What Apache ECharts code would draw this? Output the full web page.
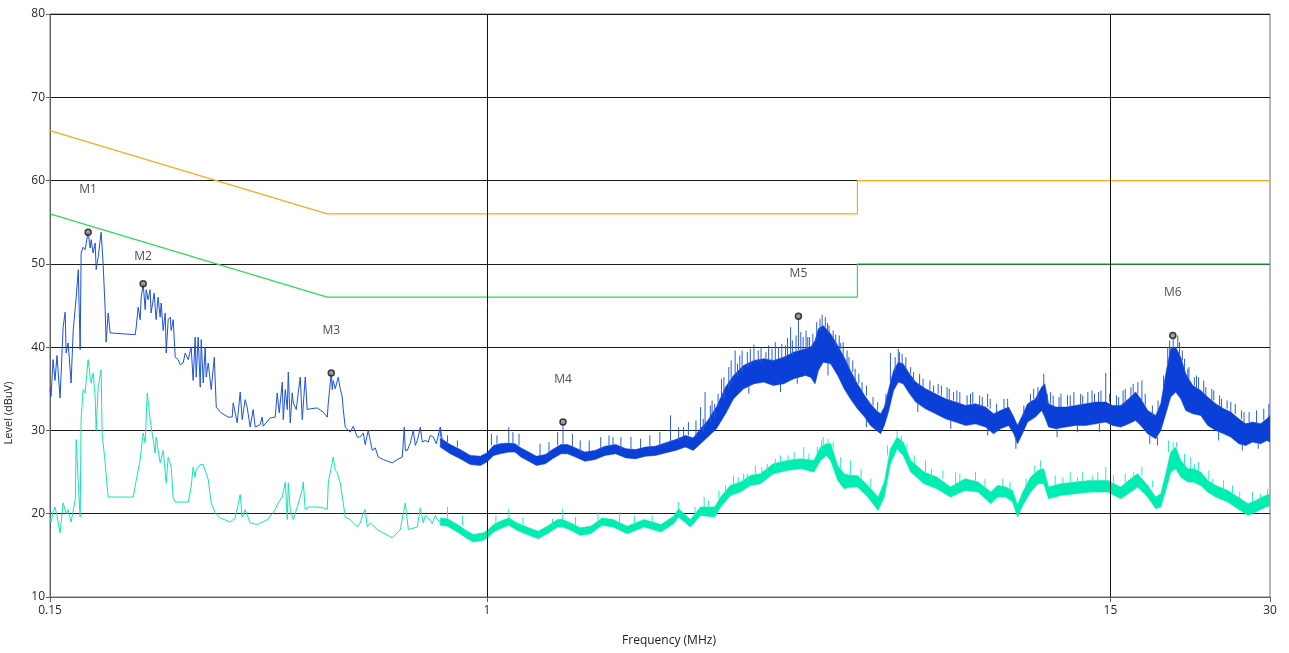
<!DOCTYPE html>
<html><head><meta charset="utf-8">
<script src="https://cdn.jsdelivr.net/npm/echarts@6/dist/echarts.min.js"></script>
<style>html,body{margin:0;padding:0;background:#fff}#c{width:1289px;height:653px}</style>
</head><body><div id="c"></div>
<script>
// ---- axis / tick data ----
const freqTicks = [0.15, 1, 15, 30];
const gridFreqs = [1, 15];
const levelMin = 10, levelMax = 80, levelStep = 10;

// ---- limit lines (MHz, dBuV) ----
const limitFreq = [0.15, 0.5, 5, 5, 30];
const qpLimit = [66, 56, 56, 60, 60];
const avLimit = [56, 46, 46, 50, 50];

// ---- markers ----
const markerNames = ['M1', 'M2', 'M3', 'M4', 'M5', 'M6'];
const markerFreq = [0.177, 0.2248, 0.5088, 1.392, 3.87, 19.67];
const markerLevel = [53.8, 47.6, 36.9, 31.0, 43.7, 41.4];

// ---- peak trace (blue): sparse low-frequency part [MHz, dBuV] ----
const blueTrace = [
[0.1500,35.0],[0.1507,34.1],[0.1520,38.5],[0.1533,36.0],[0.1546,39.0],[0.1567,33.9],[0.1588,42.4],[0.1602,44.2],
[0.1609,39.3],[0.1623,40.5],[0.1644,35.7],[0.1659,42.0],[0.1681,46.0],[0.1696,49.3],[0.1710,39.7],[0.1717,51.3],
[0.1732,52.0],[0.1747,51.7],[0.1770,53.8],[0.1786,51.9],[0.1794,52.9],[0.1809,51.3],[0.1825,52.5],[0.1833,49.3],
[0.1849,50.8],[0.1873,53.8],[0.1889,50.1],[0.1906,44.5],[0.1914,40.6],[0.1931,44.1],[0.1948,41.7],[0.1956,41.5],
[0.2172,41.5],[0.2181,42.4],[0.2200,44.8],[0.2219,43.3],[0.2229,46.0],[0.2248,47.6],[0.2268,44.5],[0.2278,46.9],
[0.2297,45.7],[0.2317,46.9],[0.2327,44.1],[0.2358,46.5],[0.2378,43.3],[0.2399,46.0],[0.2420,43.6],[0.2431,45.3],
[0.2452,42.0],[0.2474,44.1],[0.2485,39.3],[0.2506,43.3],[0.2528,43.6],[0.2539,42.0],[0.2561,43.3],[0.2584,38.8],
[0.2618,38.5],[0.2640,37.9],[0.2675,38.1],[0.2698,39.3],[0.2734,38.5],[0.2769,40.0],[0.2793,36.0],[0.2818,41.2],
[0.2830,36.4],[0.2855,41.2],[0.2880,35.2],[0.2893,40.9],[0.2918,35.7],[0.2943,40.0],[0.2956,36.4],[0.2982,38.1],
[0.3021,34.9],[0.3062,38.8],[0.3088,32.8],[0.3155,32.1],[0.3252,31.6],[0.3309,31.6],[0.3324,33.3],[0.3382,30.9],
[0.3426,34.6],[0.3456,31.3],[0.3501,33.7],[0.3531,32.8],[0.3578,30.4],[0.3625,32.5],[0.3657,30.4],[0.3737,30.7],
[0.3769,31.6],[0.3786,30.5],[0.3903,31.5],[0.3989,31.6],[0.4024,34.5],[0.4059,32.1],[0.4113,35.8],[0.4131,31.3],
[0.4167,34.9],[0.4204,32.5],[0.4222,37.0],[0.4258,30.9],[0.4295,34.5],[0.4314,33.3],[0.4371,32.5],[0.4408,34.5],
[0.4447,36.4],[0.4486,31.3],[0.4545,36.4],[0.4584,32.5],[0.4644,32.6],[0.4787,32.7],[0.4914,32.2],[0.5001,31.6],
[0.5023,33.3],[0.5088,36.9],[0.5110,34.9],[0.5132,36.0],[0.5177,35.0],[0.5222,35.2],[0.5245,36.4],[0.5291,35.0],
[0.5337,34.0],[0.5360,32.5],[0.5407,30.4],[0.5526,29.8],[0.5598,30.5],[0.5697,29.2],[0.5771,29.2],[0.5846,29.7],
[0.5897,28.3],[0.5975,30.0],[0.6027,28.8],[0.6080,27.6],[0.6160,27.9],[0.6241,26.8],[0.6379,26.5],[0.6632,26.1],
[0.6777,26.5],[0.6927,26.8],[0.6988,30.4],[0.7018,27.6],[0.7080,27.6],[0.7172,28.5],[0.7266,30.0],[0.7330,28.2],
[0.7394,28.8],[0.7458,29.8],[0.7490,30.4],[0.7556,28.6],[0.7654,28.8],[0.7754,28.6],[0.7823,29.4],[0.7925,29.2],
[0.8030,28.4],[0.8170,30.4],[0.8280,28.0]
];
// ---- peak trace (blue): dense band [MHz, lower, upper] ----
const blueBand = [
[0.817,28.0,29.1],[0.853,27.2,28.3],[0.891,26.6,27.7],[0.931,25.9,27.0],[0.972,25.8,26.9],[1.00,26.2,27.3],
[1.03,27.0,28.2],[1.06,27.2,28.4],[1.10,27.4,28.5],[1.13,27.4,28.4],[1.16,26.8,27.9],[1.20,26.3,27.4],
[1.24,25.8,26.9],[1.29,26.0,27.1],[1.33,26.6,27.7],[1.38,27.2,28.3],[1.42,27.2,28.3],[1.47,26.8,27.9],
[1.53,26.3,27.4],[1.60,26.5,27.6],[1.67,27.0,28.1],[1.75,27.2,28.3],[1.83,26.7,27.8],[1.91,26.6,27.7],
[1.99,26.9,28.0],[2.08,27.0,28.1],[2.17,27.3,28.5],[2.27,27.6,28.9],[2.37,28.0,29.4],[2.45,27.6,29.1],
[2.53,28.4,30.2],[2.61,29.2,31.2],[2.71,30.2,32.8],[2.82,32.0,35.2],[2.92,33.8,36.6],[3.05,35.0,37.8],
[3.19,35.6,38.4],[3.33,35.8,38.6],[3.47,35.4,38.4],[3.63,35.6,38.8],[3.79,36.2,39.4],[3.99,36.6,39.8],
[4.08,36.4,40.0],[4.16,35.6,40.8],[4.22,37.2,42.2],[4.31,38.2,42.6],[4.45,38.0,41.6],[4.59,36.6,40.2],
[4.72,35.0,38.8],[4.85,33.8,37.2],[5.00,32.6,35.6],[5.16,31.6,34.2],[5.29,30.6,33.2],[5.43,30.0,32.4],
[5.53,29.6,32.0],[5.62,30.6,32.8],[5.72,32.2,34.8],[5.85,34.8,37.2],[5.97,35.8,38.2],[6.10,35.6,38.0],
[6.24,34.6,37.0],[6.44,33.4,35.8],[6.72,32.6,35.0],[7.02,32.0,34.4],[7.33,31.4,33.8],[7.66,31.0,33.4],
[8.00,30.6,33.0],[8.35,30.8,33.2],[8.72,30.4,32.8],[9.03,29.6,32.0],[9.31,30.2,32.4],[9.64,30.6,32.8],
[9.86,29.6,31.6],[10.02,28.4,30.6],[10.2,29.4,31.6],[10.47,31.0,33.2],[10.83,31.6,33.8],[11.13,32.4,35.2],
[11.28,31.6,35.6],[11.47,30.4,33.2],[11.83,30.2,32.8],[12.35,30.4,32.8],[12.90,30.6,33.0],[13.47,30.6,33.2],
[14.07,30.8,33.4],[14.70,31.0,33.4],[15.15,30.6,33.0],[15.69,30.4,33.0],[16.24,30.8,33.8],[16.74,31.2,34.6],
[17.11,30.6,33.8],[17.64,29.6,32.4],[18.26,29.0,31.8],[18.67,30.0,33.2],[19.08,32.0,36.8],[19.49,34.0,39.8],
[19.92,34.6,40.0],[20.36,33.8,38.8],[20.81,32.4,36.8],[21.45,32.0,35.4],[22.21,31.8,34.8],[22.89,30.6,34.0],
[23.70,30.0,33.2],[24.54,29.6,32.6],[25.30,29.2,32.2],[26.20,28.4,31.4],[27.0,28.2,30.8],[27.8,28.6,31.0],
[28.8,28.4,30.8],[29.6,28.8,31.4],[30.0,28.6,31.8]
];
// ---- peak trace (blue): spikes [MHz, base, tip] ----
const blueSpikes = [
[0.817,29.2,30.4],[0.843,28.6,29.4],[0.880,28.0,28.8],[1.02,28.2,29.6],[1.045,28.4,29.4],[1.10,28.6,30.4],
[1.12,28.4,29.8],[1.15,28.2,29.6],[1.26,27.0,28.4],[1.31,27.2,28.6],[1.36,28.2,29.8],[1.392,28.4,31.0],
[1.45,28.0,29.6],[1.50,27.4,28.8],[1.56,27.4,28.8],[1.64,27.8,29.2],[1.70,28.0,29.4],[1.73,28.2,29.2],
[1.79,27.8,29.2],[1.87,27.8,29.2],[1.95,27.8,29.0],[2.03,28.0,29.4],[2.12,28.2,29.8],[2.22,28.6,31.8],
[2.30,28.8,30.4],[2.35,29.2,30.4],[2.40,29.4,31.0],[2.48,29.2,31.2],[2.53,30.0,32.8],[2.58,30.6,34.6],
[2.64,31.0,33.0],[2.66,31.8,33.6],[2.73,32.8,34.4],[2.77,33.8,36.2],[2.86,35.0,37.6],[2.94,36.6,39.6],
[3.00,37.2,39.0],[3.10,37.6,39.4],[3.19,38.2,40.3],[3.25,38.2,39.6],[3.40,38.4,40.2],[3.55,38.6,40.0],
[3.60,38.6,40.4],[3.69,39.0,41.1],[3.74,39.2,42.4],[3.87,39.6,43.7],[3.95,39.6,41.2],[4.03,39.8,41.2],
[4.12,40.0,41.6],[4.29,42.4,43.9],[4.39,41.8,42.9],[4.50,41.0,42.0],[4.55,40.0,41.5],[4.65,39.8,40.5],
[4.78,38.0,39.6],[4.95,35.8,37.4],[5.10,34.6,35.8],[5.35,33.0,34.0],[5.77,35.8,39.3],[5.97,38.0,39.8],
[6.00,38.0,39.4],[6.17,37.4,38.8],[6.30,36.8,37.6],[6.55,35.4,36.8],[6.85,34.8,36.0],[6.96,34.6,35.4],
[7.20,34.2,35.4],[7.45,33.6,35.0],[7.59,33.6,34.6],[7.80,33.2,34.6],[8.17,33.0,34.4],[8.50,32.8,34.2],
[8.90,32.6,33.8],[9.45,32.4,33.8],[10.6,33.0,34.4],[10.95,33.6,35.2],[11.23,35.4,36.8],[11.57,33.2,34.6],
[11.70,32.8,34.2],[12.10,32.8,34.4],[12.60,32.8,34.2],[13.18,33.0,34.4],[13.6,33.2,34.6],[14.0,33.4,34.4],
[14.4,33.4,34.8],[14.70,33.4,36.9],[15.4,33.0,34.2],[16.0,33.2,35.0],[16.56,34.4,35.6],[16.9,34.4,35.8],
[17.20,33.6,36.0],[18.0,31.8,33.0],[18.9,35.0,36.6],[19.24,38.0,40.0],[19.7,39.8,41.0],[20.10,40.0,41.4],
[20.5,38.4,39.6],[20.99,36.4,37.4],[21.1,36.2,37.6],[21.8,35.0,36.6],[22.5,34.4,36.0],[23.3,33.6,35.0],
[24.1,33.0,34.2],[25.30,32.2,33.4],[26.8,31.0,32.2],[28.3,30.8,32.4],[29.85,31.6,33.2],
[2.56,29.8,31.4],[2.69,31.4,33.2],[2.80,33.8,36.4],[2.89,35.6,38.4],[2.97,36.4,38.0],[3.03,37.0,39.6],
[3.14,37.8,39.8],[3.29,38.2,40.0],[3.36,38.4,39.4],[3.45,38.2,39.8],[3.50,38.4,40.6],[3.66,38.6,40.2],
[3.77,39.0,40.8],[3.83,39.4,41.4],[3.91,39.6,41.8],[4.00,39.8,42.0],[4.06,40.0,41.2],[4.19,41.0,43.0],
[4.25,42.0,43.4],[4.35,42.4,43.6],[4.42,41.6,42.6],[4.62,40.0,41.4],[4.70,39.0,40.6],[4.82,37.4,38.8],
[4.90,37.0,38.4],[5.03,35.6,36.8],[5.20,34.2,35.4],[5.46,32.4,33.4],[5.66,33.0,34.4],[5.89,37.0,38.8],
[6.07,37.8,39.2],[6.38,35.8,37.0],[6.65,35.0,36.2],[7.10,34.4,35.6],[7.38,33.8,35.2],[7.70,33.4,34.8],
[8.05,33.0,34.2],[8.25,33.2,34.6],[8.60,32.8,34.0],[8.80,32.8,34.4],[9.15,32.0,33.2],[9.60,32.6,33.8],
[10.30,31.6,33.0],[10.75,33.8,35.0],[11.40,33.2,34.4],[12.00,32.8,34.0],[12.45,33.0,34.2],[12.80,33.0,34.6],
[13.30,33.2,34.2],[13.85,33.4,34.8],[14.25,33.4,34.6],[14.95,33.4,34.4],[15.55,33.0,34.0],[15.85,33.2,34.8],
[16.40,34.0,35.2],[17.45,33.0,34.4],[18.45,32.4,33.6],[19.40,39.0,40.8],[20.25,38.8,40.6],[20.70,37.2,38.6],
[21.60,35.4,36.4],[22.0,35.0,36.4],[22.7,34.2,35.2],[23.5,33.6,34.8],[24.3,32.8,33.8],[24.9,32.6,33.6],
[25.8,32.0,33.2],[26.5,31.4,32.4],[27.4,31.0,32.2],[29.2,31.2,32.6],
[3.12,35.4,34.4],[3.58,35.6,34.6],[3.85,36.4,35.6],[4.40,38.0,36.6],[5.20,31.4,30.4],[6.50,33.2,32.2],
[7.50,31.2,30.2],[8.80,30.4,29.4],[9.95,29.0,27.8],[11.9,30.2,29.2],[13.0,30.6,29.8],[14.3,30.8,29.8],
[17.8,29.4,28.4],[18.4,29.2,28.2],[24.0,29.8,28.8],[26.6,28.4,27.6],[28.5,28.4,27.8]
];

// ---- average trace (cyan): sparse low-frequency part ----
const cyanTrace = [
[0.1500,19.5],[0.1507,19.0],[0.1520,20.2],[0.1533,20.8],[0.1546,19.8],[0.1567,17.7],[0.1588,21.3],[0.1609,20.0],
[0.1623,20.5],[0.1644,19.0],[0.1674,21.7],[0.1681,28.9],[0.1696,23.7],[0.1710,19.6],[0.1717,31.3],[0.1732,34.9],
[0.1747,34.5],[0.1770,38.5],[0.1786,36.4],[0.1794,35.7],[0.1809,36.9],[0.1825,34.0],[0.1833,30.0],[0.1849,35.2],
[0.1873,37.3],[0.1881,29.7],[0.1906,26.1],[0.1923,23.2],[0.1931,22.0],[0.2153,22.0],[0.2181,24.0],[0.2219,26.5],
[0.2248,29.7],[0.2268,28.5],[0.2288,34.5],[0.2317,31.3],[0.2348,28.9],[0.2368,27.3],[0.2378,29.2],[0.2420,26.1],
[0.2452,27.6],[0.2485,23.7],[0.2506,26.8],[0.2539,25.6],[0.2561,21.9],[0.2584,21.4],[0.2734,21.4],[0.2769,23.2],
[0.2793,25.6],[0.2818,24.4],[0.2830,25.3],[0.2880,25.9],[0.2918,25.9],[0.2982,24.1],[0.3021,21.3],[0.3075,20.1],
[0.3141,19.5],[0.3281,19.0],[0.3353,19.5],[0.3426,22.3],[0.3456,19.6],[0.3501,20.5],[0.3578,18.9],[0.3693,18.7],
[0.3859,19.3],[0.3989,20.5],[0.4041,21.3],[0.4113,22.0],[0.4167,23.8],[0.4204,19.3],[0.4222,23.7],[0.4258,20.5],
[0.4314,19.3],[0.4390,20.8],[0.4486,22.9],[0.4506,23.8],[0.4545,20.5],[0.4604,20.8],[0.4787,20.8],[0.4914,20.7],
[0.5001,20.5],[0.5023,23.7],[0.5066,25.0],[0.5110,26.1],[0.5132,26.8],[0.5177,25.2],[0.5222,24.9],[0.5291,23.7],
[0.5360,21.3],[0.5407,19.6],[0.5526,19.3],[0.5697,18.4],[0.5771,18.9],[0.5846,20.1],[0.5897,20.5],[0.5949,18.4],
[0.6027,18.9],[0.6213,18.1],[0.6379,17.7],[0.6632,17.1],[0.6867,18.1],[0.7018,21.3],[0.7111,18.1],[0.7394,18.4],
[0.7490,20.7],[0.7589,18.9],[0.7654,19.8],[0.7823,19.2],[0.7890,18.8],[0.7994,19.8],[0.8065,19.3],[0.8170,19.0]
];
// ---- average trace (cyan): dense band ----
const cyanBand = [
[0.817,18.6,19.5],[0.843,18.5,19.4],[0.880,17.8,18.7],[0.919,17.0,17.9],[0.943,16.6,17.5],[0.985,16.8,17.7],
[1.007,17.2,18.1],[1.03,17.8,18.7],[1.06,18.2,19.1],[1.10,18.6,19.5],[1.14,18.0,18.9],[1.20,17.4,18.3],
[1.25,17.0,17.9],[1.30,17.6,18.5],[1.36,18.4,19.3],[1.39,18.4,19.3],[1.44,18.0,18.9],[1.50,17.4,18.3],
[1.57,17.6,18.5],[1.65,18.6,19.5],[1.73,18.4,19.3],[1.84,17.6,18.5],[1.98,18.4,19.3],[2.13,17.8,18.7],
[2.25,18.8,19.7],[2.30,19.6,20.6],[2.42,18.4,19.3],[2.53,19.8,20.8],[2.69,19.6,20.8],[2.76,20.8,22.0],
[2.88,22.2,23.4],[3.01,22.6,23.8],[3.14,23.4,24.6],[3.28,23.6,24.8],[3.47,24.8,26.0],[3.69,25.2,26.4],
[3.91,25.4,26.6],[4.14,25.0,26.4],[4.26,26.4,28.0],[4.37,27.0,28.4],[4.45,26.4,28.4],[4.59,24.0,25.8],
[4.72,23.0,24.8],[4.85,23.2,24.6],[5.00,23.2,24.6],[5.23,22.0,23.4],[5.47,20.4,22.0],[5.62,22.0,23.8],
[5.77,26.0,27.8],[5.94,27.8,29.2],[6.10,27.0,28.6],[6.30,25.0,26.4],[6.68,23.6,25.0],[7.06,23.0,24.4],
[7.49,22.0,23.2],[7.98,22.8,24.2],[8.45,22.6,23.8],[8.92,21.2,22.6],[9.19,22.0,23.4],[9.52,22.0,23.2],
[9.81,21.4,22.8],[10.02,19.6,21.0],[10.25,21.0,22.6],[10.61,22.6,24.4],[10.95,23.6,25.2],[11.23,23.6,25.4],
[11.47,21.8,23.2],[12.09,22.2,23.6],[12.90,22.4,23.8],[13.77,22.6,24.0],[14.83,22.6,24.0],[15.69,21.8,23.2],
[16.38,22.6,24.2],[16.88,23.2,24.8],[17.64,22.0,23.4],[18.26,20.6,22.0],[18.67,20.8,22.4],[19.08,22.8,24.8],
[19.49,25.0,27.4],[19.92,25.4,28.0],[20.36,24.4,26.4],[20.99,23.8,25.4],[21.52,23.8,25.4],[22.21,23.4,25.0],
[22.89,22.6,24.0],[23.70,22.0,23.4],[24.97,21.4,22.8],[26.09,20.6,22.0],[27.29,19.8,21.2],[28.2,20.2,21.6],
[29.0,20.6,22.0],[30.0,21.0,22.4]
];
// ---- average trace (cyan): spikes ----
const cyanSpikes = [
[0.843,19.4,20.8],[0.90,18.6,19.8],[1.04,18.6,19.8],[1.10,19.4,20.6],[1.17,18.6,19.6],[1.33,18.4,19.4],
[1.39,19.2,20.6],[1.47,18.6,19.6],[1.62,19.2,20.2],[1.78,19.0,20.2],[1.90,18.6,19.8],[2.05,18.8,19.8],
[2.30,20.6,21.4],[2.47,19.8,20.8],[2.57,20.8,22.0],[2.74,21.8,22.8],[2.92,23.4,24.6],[3.05,23.8,24.8],
[3.21,24.6,25.8],[3.38,24.8,26.0],[3.58,26.0,27.0],[3.80,26.4,27.4],[3.96,26.6,28.0],[4.20,26.8,28.0],
[4.31,28.2,29.2],[4.40,28.4,29.0],[4.65,25.4,26.8],[4.85,24.6,26.4],[5.08,24.2,25.4],[5.94,29.2,29.9],
[6.40,26.0,27.0],[6.72,24.8,26.4],[7.25,24.2,25.2],[7.66,23.2,25.0],[8.35,23.8,25.0],[9.40,23.2,24.2],
[10.4,23.0,24.2],[11.08,25.2,26.4],[11.8,23.4,24.6],[12.6,23.8,25.0],[13.3,23.8,25.0],[14.2,24.0,25.0],
[14.7,24.0,25.6],[16.0,23.6,24.8],[17.2,24.6,25.6],[19.3,27.4,28.8],[20.0,28.0,28.6],[20.7,25.8,27.2],
[21.26,25.4,26.8],[22.0,25.0,26.2],[23.0,24.0,25.2],[24.5,22.8,24.0],[25.5,22.4,23.4],[27.8,21.4,22.6],
[29.7,22.2,23.0],
[2.62,20.6,21.6],[2.82,22.4,23.4],[2.98,23.4,24.4],[3.10,23.8,24.8],[3.30,24.6,25.6],[3.50,25.6,26.6],
[3.70,26.0,27.0],[4.05,26.4,27.2],[4.28,27.6,28.8],[4.50,27.8,28.6],[5.30,23.2,24.2],[5.70,27.0,28.2],
[6.05,28.2,29.4],[6.20,27.6,28.4],[6.90,24.4,25.4],[7.80,23.8,24.8],[8.70,23.2,24.2],[9.70,22.8,23.8],
[10.8,24.8,25.8],[12.2,23.4,24.4],[13.0,23.6,24.4],[13.9,23.8,24.6],[15.2,23.8,24.6],[16.6,24.2,25.0],
[18.0,23.2,24.0],[19.7,27.4,28.6],[21.6,25.2,26.0],[23.4,23.4,24.2],[26.3,21.8,22.6],[28.8,21.4,22.4]
];

// ---- styles ----
const BLUE = '#0a3fd8', BLUE_LINE = '#1d52de', BLUE_SPIKE = '#2a5ce0';
const CYAN = '#00edb2', CYAN_LINE = '#12e6b8', CYAN_SPIKE = '#2cecbe';
const ORANGE = '#ffa526', GREEN = '#2edc55';
const FONT = '"Open Sans", "Noto Sans", sans-serif';

function zip(xs, ys) { return xs.map((x, i) => [x, ys[i]]); }

function bandSeries(band, color, z) {
  return {
    type: 'custom', coordinateSystem: 'cartesian2d', clip: true, z: z, silent: true,
    data: [[band[0][0], band[0][1]]],
    encode: { x: 0, y: 1 },
    renderItem: function (params, api) {
      const pts = [];
      for (let i = 0; i < band.length; i++) pts.push(api.coord([band[i][0], band[i][2]]));
      for (let i = band.length - 1; i >= 0; i--) pts.push(api.coord([band[i][0], band[i][1]]));
      return { type: 'polygon', shape: { points: pts }, style: { fill: color, stroke: color, lineWidth: 0.6 } };
    }
  };
}
function spikeSeries(spikes, color, z) {
  return {
    type: 'custom', coordinateSystem: 'cartesian2d', clip: true, z: z, silent: true,
    data: spikes, encode: { x: 0, y: [1, 2] },
    renderItem: function (params, api) {
      const a = api.coord([api.value(0), api.value(1)]);
      const b = api.coord([api.value(0), api.value(2)]);
      return { type: 'line', shape: { x1: a[0], y1: a[1], x2: b[0], y2: b[1] }, style: { stroke: color, lineWidth: 1 } };
    }
  };
}
function traceSeries(data, color, z, w) {
  return { type: 'line', data: data, showSymbol: false, symbol: 'none', z: z, silent: true,
    lineStyle: { color: color, width: w || 1 }, itemStyle: { color: color } };
}

const chart = echarts.init(document.getElementById('c'), null, { renderer: 'canvas' });
const markerLabelDist = [33, 18, 33, 33, 33, 33];

chart.setOption({
  animation: false,
  backgroundColor: '#ffffff',
  grid: { left: 50, right: 19, top: 14, bottom: 56, containLabel: false, outerBoundsMode: 'none',
    show: true, borderColor: '#707070', borderWidth: 1, backgroundColor: 'transparent' },
  xAxis: {
    type: 'log', logBase: 10, min: 0.15, max: 30,
    name: 'Frequency (MHz)', nameLocation: 'middle', nameGap: 38,
    nameTextStyle: { fontFamily: FONT, fontSize: 12, color: '#222', padding: [0, 0, 0, 18] },
    axisLine: { show: true, onZero: false, lineStyle: { color: '#606060', width: 1 } },
    axisTick: { show: true, customValues: freqTicks, length: 5, inside: false, lineStyle: { color: '#606060' } },
    axisLabel: { customValues: freqTicks, fontFamily: FONT, fontSize: 12, color: '#2a2a2a', margin: 8,
      formatter: function (v) { return String(+(+v).toPrecision(3)); } },
    minorTick: { show: false }, splitLine: { show: false }
  },
  yAxis: {
    type: 'value', min: levelMin, max: levelMax, interval: levelStep,
    name: 'Level (dBuV)', nameLocation: 'middle', nameGap: 36, nameRotate: 90,
    nameTextStyle: { fontFamily: FONT, fontSize: 11, color: '#222', padding: [0, 215, 0, 0] },
    axisLine: { show: true, lineStyle: { color: '#606060', width: 1 } },
    axisTick: { show: true, length: 4, lineStyle: { color: '#606060' } },
    axisLabel: { fontFamily: FONT, fontSize: 12, color: '#2a2a2a', margin: 5 },
    splitLine: { show: true, lineStyle: { color: '#1c1c1c', width: 1 } }
  },
  series: [
    { type: 'line', data: [], z: 1, silent: true,
      markLine: { silent: true, symbol: 'none', animation: false, label: { show: false },
        lineStyle: { color: '#111', width: 1, type: 'solid' },
        data: gridFreqs.map(function (f) { return { xAxis: f }; }) } },
    traceSeries(zip(limitFreq, qpLimit), ORANGE, 3, 1.2),
    traceSeries(zip(limitFreq, avLimit), GREEN, 3, 1.2),
    traceSeries(cyanTrace, CYAN_LINE, 4),
    bandSeries(cyanBand, CYAN, 4),
    spikeSeries(cyanSpikes, CYAN_SPIKE, 4),
    traceSeries(blueTrace, BLUE_LINE, 5),
    bandSeries(blueBand, BLUE, 5),
    spikeSeries(blueSpikes, BLUE_SPIKE, 5),
    { type: 'scatter', z: 8, silent: true,
      data: markerFreq.map(function (f, i) {
        return { value: [f, markerLevel[i]], name: markerNames[i],
          label: { distance: markerLabelDist[i] } };
      }),
      symbol: 'circle', symbolSize: 6,
      itemStyle: { color: '#8a8a8a', borderColor: '#111', borderWidth: 1.5 },
      label: { show: true, position: 'top', formatter: '{b}', fontFamily: FONT, fontSize: 12, color: '#222' } }
  ]
});
</script></body></html>
